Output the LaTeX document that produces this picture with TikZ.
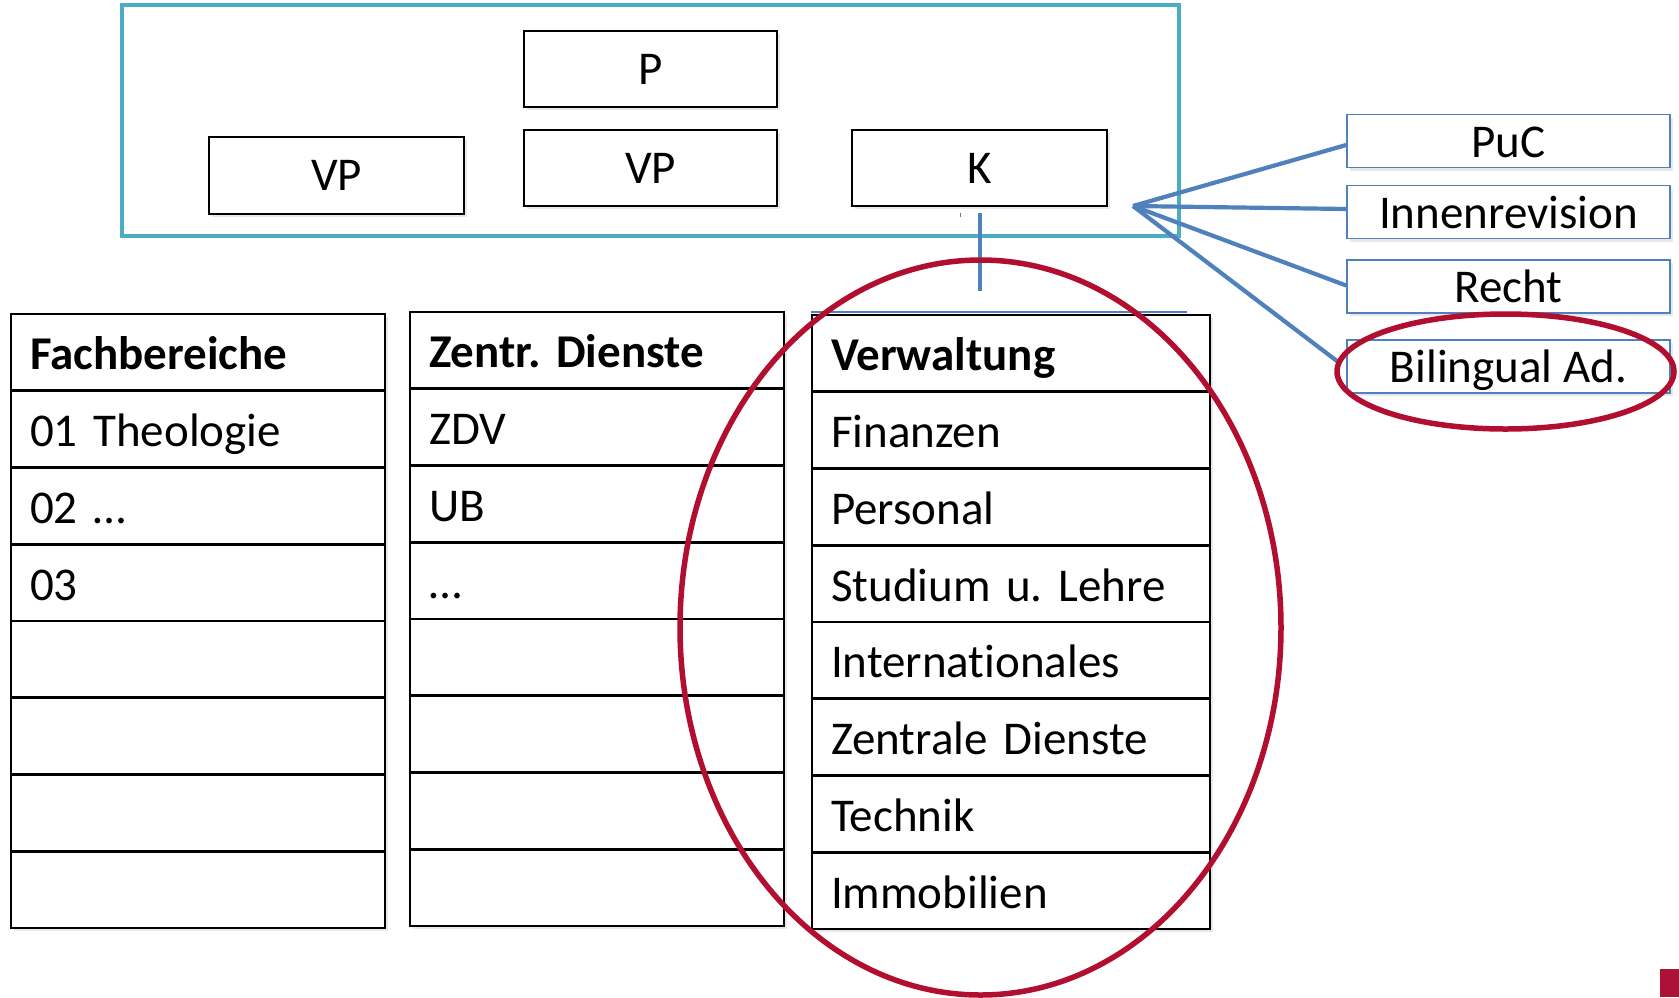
\documentclass[tikz,border=0pt]{standalone}
\usepackage{fontspec}
\setmainfont{Carlito}[Ligatures=NoCommon]
\usetikzlibrary{shapes.geometric,shadows}
\definecolor{tealc}{RGB}{75,172,198}
\definecolor{bluec}{RGB}{79,129,189}
\definecolor{redc}{RGB}{178,14,48}
\definecolor{redsq}{RGB}{172,18,54}
\frenchspacing
\tikzset{
  txt/.style={font=\fontsize{47}{56}\selectfont},
  shad/.style={drop shadow={opacity=0.18,shadow xshift=3pt,shadow yshift=-3pt}},
  topbox/.style={txt,draw=black,line width=1.8pt,fill=white,shad,minimum width=253pt,minimum height=76pt,inner sep=0pt},
  sidebox/.style={txt,draw=bluec,line width=1.6pt,fill=white,shad,minimum width=323pt,minimum height=53pt,inner sep=0pt,text height=32pt,text depth=0pt},
  cell/.style={txt,draw=black,line width=2.6pt,fill=white,shad,minimum height=76.75pt,inner xsep=19pt,inner ysep=0pt,text height=35pt,text depth=0pt,align=left},
  fan/.style={draw=bluec,line width=4.2pt},
  redring/.style={draw=redc,line width=5.5pt,ellipse,inner sep=0pt}
}
\begin{document}
\begin{tikzpicture}[x=1pt,y=-1pt]
\useasboundingbox (0,0) rectangle (1679,997);
% board frame
\node[draw=tealc,line width=4.5pt,minimum width=1057pt,minimum height=231pt,inner sep=0pt] (board) at (650.5,120.5) {};
% top boxes
\node[topbox] (p) at (650.5,69) {P};
\node[topbox,minimum width=255pt,minimum height=77pt] (vp1) at (336.5,175.5) {VP};
\node[topbox] (vp2) at (650.5,168) {VP};
\node[topbox,minimum width=255pt] (k) at (979.5,168) {K};
% side boxes
\node[sidebox] (puc) at (1508.5,141) {PuC};
\node[sidebox] (ir) at (1508.5,212) {Innenrevision};
\node[sidebox] (re) at (1508.5,286.5) {Recht};
\node[sidebox] (bi) at (1508.5,366.5) {Bilingual Ad.};
% fan connectors
\coordinate (fo) at (1133,206);
\draw[fan] (fo) -- ([yshift=-4pt]puc.west);
\draw[fan] (fo) -- ([yshift=3pt]ir.west);
\draw[fan] (fo) -- ([yshift=1pt]re.west);
\draw[fan] (fo) -- ([xshift=-6pt,yshift=3pt]bi.west);
% vertical connector from K
\coordinate (ka) at (980,213);
\coordinate (kb) at (980,291);
\draw[draw=bluec,line width=4.2pt] (ka) -- (kb);
\coordinate (ta) at (960,213);
\coordinate (tb) at (960,217);
\draw[draw=bluec,line width=1pt] (ta) -- (tb);
% thin blue line above Verwaltung
\coordinate (la) at (811,312);
\coordinate (lb) at (1187,312);
\draw[draw=bluec,line width=1.5pt] (la) -- (lb);
% tables
\foreach \t [count=\i] in {{\textbf{Fachbereiche}},{01 Theologie},{02 \dots},{03},{},{},{},{}}{
  \node[cell,text width=336pt] (f\i) at (198,{314+(\i-0.5)*76.75}) {\t};
}
\foreach \t [count=\i] in {{\textbf{Zentr. Dienste}},{ZDV},{UB},{\dots},{},{},{},{}}{
  \node[cell,text width=336pt] (z\i) at (597,{312+(\i-0.5)*76.75}) {\t};
}
\foreach \t [count=\i] in {{\textbf{Verwaltung}},{Finanzen},{Personal},{Studium u. Lehre},{Internationales},{Zentrale Dienste},{Technik},{Immobilien}}{
  \node[cell,text width=360pt] (v\i) at (1011,{315+(\i-0.5)*76.75}) {\t};
}
% red rings
\node[redring,minimum width=601pt,minimum height=735pt] (ring) at (980.5,627.5) {};
\node[redring,minimum width=337pt,minimum height=115pt] (ringbi) at (1505.5,371.5) {};
% corner mark
\fill[redsq] (1660,969) rectangle (1679,997);
\end{tikzpicture}
\end{document}
